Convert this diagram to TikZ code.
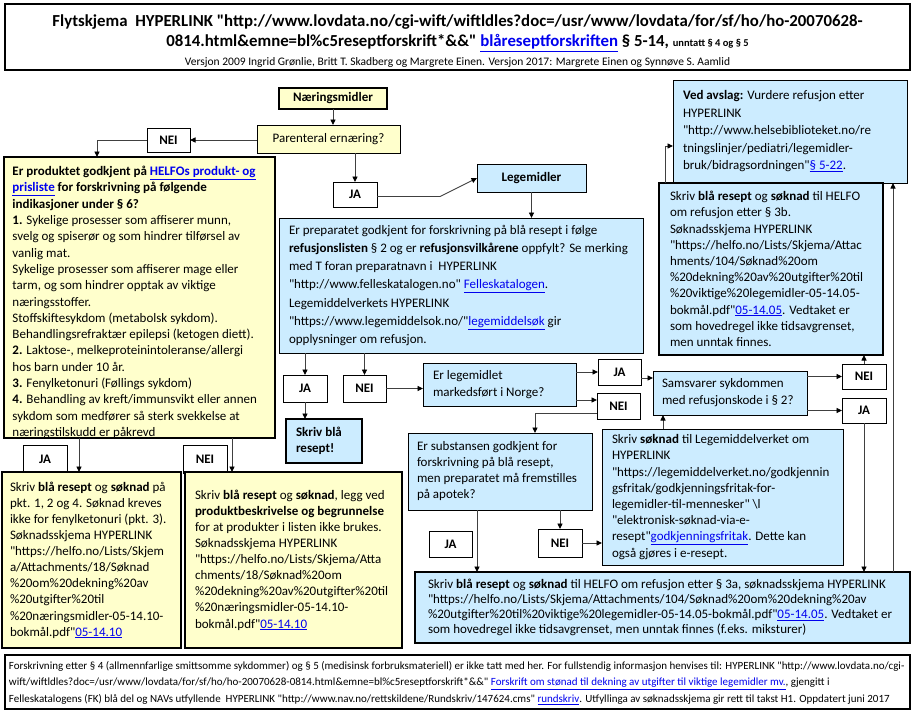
\documentclass[tikz,border=0pt]{standalone}
\usepackage{fontspec}
\setmainfont{Carlito}
\newfontfamily\calfont{Carlito}
\usetikzlibrary{arrows.meta}
\definecolor{yel}{HTML}{FFFFCC}
\definecolor{blu}{HTML}{CCECFF}
\definecolor{lnkc}{HTML}{0000EE}
\newcommand{\lnk}[1]{{\color{lnkc}\underline{#1}}}
\begin{document}
\calfont
\begin{tikzpicture}[x=1pt,y=-1pt,
  every node/.style={inner sep=0pt, outer sep=0pt},
  wh/.style 2 args={minimum width=#1pt, minimum height=#2pt},
  base/.style={draw, rectangle, anchor=north west},
  yb/.style={base, fill=yel},
  bl/.style={base, fill=blu},
  wb/.style={base, fill=white},
  thinb/.style={line width=0.8pt},
  midb/.style={line width=1.3pt},
  thickb/.style={line width=2.3pt},
  lab/.style={base, fill=white, line width=0.8pt, font=\bfseries\fontsize{13}{15}\selectfont, align=center},
  txt/.style={anchor=west, align=left},
  fs/.style={font=\fontsize{13}{#1}\selectfont},
  arr/.style={draw=black!75, line width=0.9pt, -{Triangle[length=5.5pt,width=5pt,color=black]}},
]
\fill[white] (0,0) rectangle (915,712);
\useasboundingbox (0,0) rectangle (915,712);

% title
\node[wb, thickb, wh={905}{66}] (title) at (5,4) {};
\node[font=\bfseries\fontsize{16.8}{19}\selectfont] (t1) at ([yshift=-18pt]title.north) {Flytskjema\ \ HYPERLINK "http://www.lovdata.no/cgi-wift/wiftldles?doc=/usr/www/lovdata/for/sf/ho/ho-20070628-};
\node[font=\bfseries\fontsize{16.8}{19}\selectfont] (t2) at ([yshift=-39pt]title.north) {0814.html\&emne=bl\%c5reseptforskrift*\&\&" \lnk{blåreseptforskriften} § 5-14, {\fontsize{10.5}{12}\selectfont unntatt § 4 og § 5}};
\node[font=\fontsize{11.5}{13}\selectfont] (t3) at ([yshift=-58pt]title.north) {Versjon 2009 Ingrid Grønlie, Britt T. Skadberg og Margrete Einen. Versjon 2017: Margrete Einen og Synnøve S. Aamlid};

% top flow
\node[yb, midb, wh={108}{21}, font=\bfseries\fontsize{13}{15}\selectfont] (nm) at (279,88) {Næringsmidler};
\node[yb, thinb, wh={143}{28}, font=\fontsize{13}{15}\selectfont] (p1) at (257,125) {Parenteral ernæring?};
\node[lab, wh={43}{24}] (nei1) at (147,128) {NEI};
\node[lab, wh={44}{25}] (ja1) at (333,182) {JA};
\node[bl, thinb, wh={109}{28}, font=\bfseries\fontsize{13}{15}\selectfont] (lm) at (477,164) {Legemidler};

% top-left yellow box
\node[yb, midb, wh={271}{281}] (tl) at (4,157) {};
\node[txt, fs=16.3] (tlt) at ([xshift=8.5pt,yshift=-5pt]tl.west) {%
\textbf{Er produktet godkjent på \lnk{HELFOs produkt- og}}\\
\textbf{\lnk{prisliste} for forskrivning på følgende}\\
\textbf{indikasjoner under § 6?}\\
\textbf{1.} Sykelige prosesser som affiserer munn,\\
svelg og spiserør og som hindrer tilførsel av\\
vanlig mat.\\
Sykelige prosesser som affiserer mage eller\\
tarm, og som hindrer opptak av viktige\\
næringsstoffer.\\
Stoffskiftesykdom (metabolsk sykdom).\\
Behandlingsrefraktær epilepsi (ketogen diett).\\
\textbf{2.} Laktose-, melkeproteinintoleranse/allergi\\
hos barn under 10 år.\\
\textbf{3.} Fenylketonuri (Føllings sykdom)\\
\textbf{4.} Behandling av kreft/immunsvikt eller annen\\
sykdom som medfører så sterk svekkelse at\\
næringstilskudd er påkrevd};

% big blue box
\node[bl, thinb, wh={364}{135}] (bb) at (279,218) {};
\node[txt, fs=18.3] (bbt) at ([xshift=10pt]bb.west) {%
Er preparatet godkjent for forskrivning på blå resept i følge\\
\textbf{refusjonslisten} § 2 og er \textbf{refusjonsvilkårene} oppfylt? Se merking\\
med T foran preparatnavn i\ \ HYPERLINK\\
"http://www.felleskatalogen.no" \lnk{Felleskatalogen}.\\
Legemiddelverkets HYPERLINK\\
"https://www.legemiddelsok.no/"\lnk{legemiddelsøk} gir\\
opplysninger om refusjon.};

% Ved avslag
\node[bl, thinb, wh={234}{103}] (ved) at (673,80) {};
\node[txt, fs=17.4] (vedt) at ([xshift=10pt]ved.west) {%
\textbf{Ved avslag:} Vurdere refusjon etter\\
HYPERLINK\\
"http://www.helsebiblioteket.no/re\\
tningslinjer/pediatri/legemidler-\\
bruk/bidragsordningen"\lnk{§ 5-22}.};

% 3b box
\node[bl, thickb, wh={224}{172}] (b3b) at (659,183) {};
\node[txt, fs=16.2] (b3bt) at ([xshift=11pt]b3b.west) {%
Skriv \textbf{blå resept} og \textbf{søknad} til HELFO\\
om refusjon etter § 3b.\\
Søknadsskjema HYPERLINK\\
"https://helfo.no/Lists/Skjema/Attac\\
hments/104/Søknad\%20om\\
\%20dekning\%20av\%20utgifter\%20til\\
\%20viktige\%20legemidler-05-14.05-\\
bokmål.pdf"\lnk{05-14.05}. Vedtaket er\\
som hovedregel ikke tidsavgrenset,\\
men unntak finnes.};

% middle row
\node[lab, wh={44}{27}] (ja2) at (283,375) {JA};
\node[lab, wh={43}{27}] (nei2) at (343,375) {NEI};
\node[bl, thickb, wh={76}{44}] (sbr) at (286,419) {};
\node[txt, font=\bfseries\fontsize{13}{16.5}\selectfont] (sbrt) at ([xshift=10pt]sbr.west) {Skriv blå\\resept!};

\node[bl, thinb, wh={153}{43}] (mk) at (423,363) {};
\node[txt, fs=17] (mkt) at ([xshift=10pt]mk.west) {Er legemidlet\\markedsført i Norge?};
\node[lab, wh={43}{26}] (ja3) at (598,359) {JA};
\node[lab, wh={43}{26}] (nei3) at (597,393) {NEI};

\node[bl, thinb, wh={154}{44}] (sam) at (653,371) {};
\node[txt, fs=17] (samt) at ([xshift=9pt]sam.west) {Samsvarer sykdommen\\med refusjonskode i § 2?};
\node[lab, wh={44}{25}] (nei4) at (842,364) {NEI};
\node[lab, wh={44}{25}] (ja4) at (842,398) {JA};

\node[bl, thinb, wh={184}{77}] (sb) at (408,433) {};
\node[txt, fs=16] (sbt) at ([xshift=9pt]sb.west) {Er substansen godkjent for\\forskrivning på blå resept,\\men preparatet må fremstilles\\på apotek?};

\node[bl, thinb, wh={241}{136}] (gf) at (602,429) {};
\node[txt, fs=16.2] (gft) at ([xshift=10pt]gf.west) {%
Skriv \textbf{søknad} til Legemiddelverket om\\
HYPERLINK\\
"https://legemiddelverket.no/godkjennin\\
gsfritak/godkjenningsfritak-for-\\
legemidler-til-mennesker" \textbackslash l\\
"elektronisk-søknad-via-e-\\
resept"\lnk{godkjenningsfritak}. Dette kan\\
også gjøres i e-resept.};

\node[lab, wh={43}{26}] (ja6) at (429,531) {JA};
\node[lab, wh={44}{28}] (nei5) at (538,529) {NEI};

% bottom-left
\node[lab, wh={44}{28}] (ja5) at (23,445) {JA};
\node[lab, wh={44}{28}] (nei6) at (183,445) {NEI};
\node[yb, thickb, wh={179}{176}] (bl1) at (2,472) {};
\node[txt, fs=16.1] (bl1t) at ([xshift=8pt]bl1.west) {%
Skriv \textbf{blå resept} og \textbf{søknad} på\\
pkt. 1, 2 og 4. Søknad kreves\\
ikke for fenylketonuri (pkt. 3).\\
Søknadsskjema HYPERLINK\\
"https://helfo.no/Lists/Skjem\\
a/Attachments/18/Søknad\\
\%20om\%20dekning\%20av\\
\%20utgifter\%20til\\
\%20næringsmidler-05-14.10-\\
bokmål.pdf"\lnk{05-14.10}};
\node[yb, thickb, wh={217}{176}] (bl2) at (185,472) {};
\node[txt, fs=16.1] (bl2t) at ([xshift=10pt]bl2.west) {%
Skriv \textbf{blå resept} og \textbf{søknad}, legg ved\\
\textbf{produktbeskrivelse og begrunnelse}\\
for at produkter i listen ikke brukes.\\
Søknadsskjema HYPERLINK\\
"https://helfo.no/Lists/Skjema/Atta\\
chments/18/Søknad\%20om\\
\%20dekning\%20av\%20utgifter\%20til\\
\%20næringsmidler-05-14.10-\\
bokmål.pdf"\lnk{05-14.10}};

% bottom box
\node[bl, thickb, wh={495}{71}] (bot) at (415,572) {};
\node[txt, fs=15] (bott) at ([xshift=13pt]bot.west) {%
Skriv \textbf{blå resept} og \textbf{søknad} til HELFO om refusjon etter § 3a, søknadsskjema HYPERLINK\\
"https://helfo.no/Lists/Skjema/Attachments/104/Søknad\%20om\%20dekning\%20av\\
\%20utgifter\%20til\%20viktige\%20legemidler-05-14.05-bokmål.pdf"\lnk{05-14.05}. Vedtaket er\\
som hovedregel ikke tidsavgrenset, men unntak finnes (f.eks. miksturer)};

% footer
\node[wb, thickb, wh={905}{54}] (foot) at (5,655) {};
\node[txt, font=\fontsize{11}{16.5}\selectfont] (ft) at ([xshift=4pt,yshift=-1pt]foot.west) {%
Forskrivning etter § 4 (allmennfarlige smittsomme sykdommer) og § 5 (medisinsk forbruksmateriell) er ikke tatt med her. For fullstendig informasjon henvises til: HYPERLINK "http://www.lovdata.no/cgi-\\
wift/wiftldles?doc=/usr/www/lovdata/for/sf/ho/ho-20070628-0814.html\&emne=bl\%c5reseptforskrift*\&\&" \lnk{Forskrift om stønad til dekning av utgifter til viktige legemidler mv.}, gjengitt i\\
Felleskatalogens (FK) blå del og NAVs utfyllende\ \ HYPERLINK "http://www.nav.no/rettskildene/Rundskriv/147624.cms" \lnk{rundskriv}. Utfyllinga av søknadsskjema gir rett til takst H1. Oppdatert juni 2017};

% connectors
\draw[arr] (nm.south) -- (nm.south |- p1.north);
\draw[arr] (p1.west |- nei1.east) -- (nei1.east);
\draw[arr] (nei1.west) -| ([xshift=-42.5pt]tl.north);
\draw[arr] (p1.south -| ja1.north) -- (ja1.north);
\draw[arr] ([yshift=-2pt]ja1.east) -- ++(63,0) -- (lm.west);
\draw[arr] (lm.south) -- (lm.south |- bb.north);
\draw[arr] (bb.south -| ja2.north) -- (ja2.north);
\draw[arr] (bb.south -| nei2.north) -- (nei2.north);
\draw[arr] (ja2.south) -- (ja2.south |- sbr.north);
\draw[arr] (nei2.east) -- (nei2.east -| mk.west);
\draw[arr] (mk.east |- ja3.west) -- (ja3.west);
\coordinate (n3in) at ([yshift=6pt]nei3.west);
\draw[arr] (mk.east |- n3in) -- (n3in);
\coordinate (n3out) at ([yshift=-7pt]nei3.west);
\draw[arr] (n3out) -| ([xshift=35pt]sb.north);
\coordinate (j3out) at ([yshift=-6pt]ja3.east);
\draw[arr] (j3out) -- (j3out -| sam.west);
\draw[arr] (sam.east |- nei4.west) -- (nei4.west);
\draw[arr] (sam.east |- ja4.west) -- (ja4.west);
\draw[arr] (nei4.north) -- (nei4.north |- b3b.south);
\draw[arr] (ja4.south) -- (ja4.south |- bot.north);
\coordinate (vin) at ([yshift=-14.5pt]ved.west);
\draw[arr] ([xshift=6pt]b3b.north west) |- (vin);
\coordinate (bup) at ([xshift=-17pt]bot.north east);
\draw[arr] (bup) -- (bup |- ved.south);
\coordinate (sbo) at ([xshift=-23pt]sb.south);
\draw[arr] (sbo) -- (sbo |- bot.north);
\draw[arr] (sb.south -| nei5.north) -- (nei5.north);
\draw[arr] (nei5.east) -- (nei5.east -| gf.west);
\coordinate (gfu) at ([xshift=61pt]gf.north west);
\draw[arr] (gfu) -- (gfu |- sam.south);
\coordinate (c1) at ([xshift=-12.5pt]bl1.north);
\draw[arr] (c1 |- tl.south) -- (c1);
\coordinate (c2) at ([xshift=-61.5pt]bl2.north);
\draw[arr] (c2 |- tl.south) -- (c2);
\end{tikzpicture}
\end{document}
